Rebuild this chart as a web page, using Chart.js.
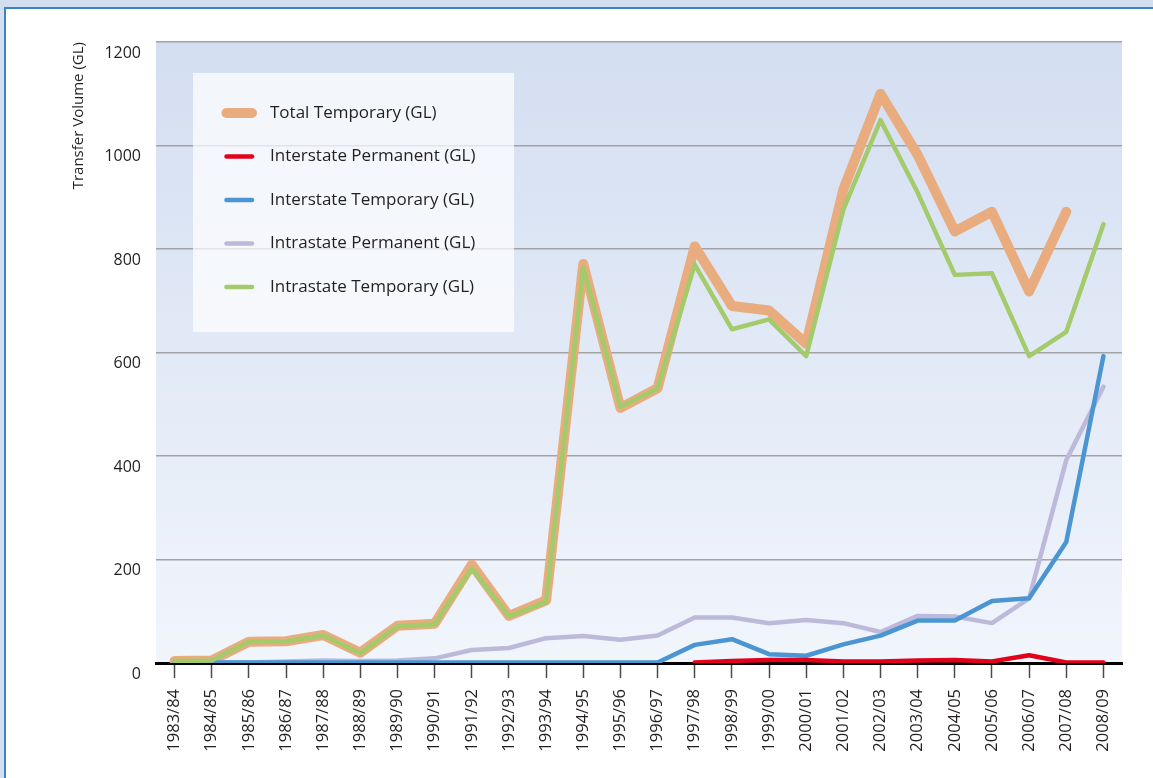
<!DOCTYPE html>
<html>
<head>
<meta charset="utf-8">
<title>Water transfer volumes</title>
<script src="https://cdn.jsdelivr.net/npm/chart.js@4/dist/chart.umd.min.js"></script>
<style>
  html, body {
    margin: 0;
    padding: 0;
    background: #d3dff0;
    overflow: hidden;
  }
  .panel {
    position: absolute;
    left: 4px;
    top: 7px;
    width: 1200px;
    height: 800px;
    background: #ffffff;
    border-left: 2px solid #3a86c5;
    border-top: 2px solid #3a86c5;
  }
  .wrap {
    position: absolute;
    left: 0;
    top: 0;
    width: 1153px;
    height: 778px;
  }
</style>
</head>
<body>
<div class="panel"></div>
<div class="wrap"><canvas id="chart-transfers"></canvas></div>
<script>
const years = [
  "1983/84", "1984/85", "1985/86", "1986/87", "1987/88", "1988/89", "1989/90",
  "1990/91", "1991/92", "1992/93", "1993/94", "1994/95", "1995/96", "1996/97",
  "1997/98", "1998/99", "1999/00", "2000/01", "2001/02", "2002/03", "2003/04",
  "2004/05", "2005/06", "2006/07", "2007/08", "2008/09",
];

const totalTemporary = [4, 5, 41, 42, 54, 20, 72, 76, 190, 91, 121, 771, 493, 531, 805, 690, 681, 617, 915, 1100, 982, 834, 872, 718, 872, null];
const interstatePermanent = [null, null, null, null, null, null, null, null, null, null, null, null, null, null, 1, 4, 6, 6, 3, 3, 5, 6, 3, 15, 1, 1];
const interstateTemporary = [1, 1, 1, 1, 1, 1, 1, 1, 1, 1, 1, 1, 1, 1, 35, 46, 17, 14, 36, 53, 82, 82, 120, 125, 234, 593];
const intrastatePermanent = [1, 1, 1, 3, 5, 4, 5, 9, 25, 29, 48, 52, 45, 53, 88, 88, 77, 83, 77, 60, 91, 90, 77, 125, 392, 534];
const intrastateTemporary = [4, 5, 41, 42, 53, 19, 71, 75, 183, 90, 118, 765, 495, 530, 770, 645, 664, 593, 876, 1049, 909, 750, 753, 593, 640, 848];

const yTicks = [0, 200, 400, 600, 800, 1000, 1200];

const fontFamily = "'Open Sans', 'Noto Sans', sans-serif";
const textColor = "#231f20";

// plot background gradient + translucent legend box with line swatches
const backdrop = {
  id: "backdrop",
  beforeDraw(chart) {
    const { ctx, chartArea } = chart;
    const g = ctx.createLinearGradient(0, chartArea.top, 0, chartArea.bottom);
    g.addColorStop(0, "#d3def1");
    g.addColorStop(1, "#f1f5fc");
    ctx.save();
    ctx.fillStyle = g;
    ctx.fillRect(chartArea.left, chartArea.top, chartArea.right - chartArea.left, chartArea.bottom - chartArea.top);
    ctx.restore();
  },
  beforeDatasetsDraw(chart) {
    const { ctx, chartArea } = chart;
    const boxX = chartArea.left + 37;
    const boxY = chartArea.top + 31;
    ctx.save();
    ctx.fillStyle = "rgba(255, 255, 255, 0.7)";
    ctx.fillRect(boxX, boxY, 321, 259);

    chart.data.datasets.forEach((ds, i) => {
      const y = boxY + 40 + i * 43.5;
      ctx.beginPath();
      ctx.strokeStyle = ds.borderColor;
      ctx.lineWidth = i === 0 ? 10 : 4.5;
      ctx.lineCap = "round";
      ctx.moveTo(boxX + 33.5, y);
      ctx.lineTo(boxX + 59, y);
      ctx.stroke();

      ctx.fillStyle = textColor;
      ctx.font = "17px " + fontFamily;
      ctx.textBaseline = "middle";
      ctx.textAlign = "left";
      ctx.fillText(ds.label, boxX + 77, y);
    });
    ctx.restore();
  },
};

const lineStyle = (color, width, order) => ({
  borderColor: color,
  backgroundColor: color,
  borderWidth: width,
  borderJoinStyle: "round",
  borderCapStyle: "round",
  pointRadius: 0,
  pointHoverRadius: 0,
  fill: false,
  tension: 0,
  spanGaps: false,
  order: order,
});

const ctxTransfers = document.getElementById("chart-transfers").getContext("2d");

const chartTransfers = new Chart(ctxTransfers, {
  type: "line",
  data: {
    labels: years,
    datasets: [
      { label: "Total Temporary (GL)", data: totalTemporary, ...lineStyle("#e8ac7e", 10, 4) },
      { label: "Interstate Permanent (GL)", data: interstatePermanent, ...lineStyle("#e3001b", 4.5, 1) },
      { label: "Interstate Temporary (GL)", data: interstateTemporary, ...lineStyle("#4a95d2", 4.5, 2) },
      { label: "Intrastate Permanent (GL)", data: intrastatePermanent, ...lineStyle("#bcb9da", 4.5, 3) },
      { label: "Intrastate Temporary (GL)", data: intrastateTemporary, ...lineStyle("#a3cb6b", 4.5, 0) },
    ],
  },
  options: {
    responsive: true,
    maintainAspectRatio: false,
    animation: false,
    layout: {
      padding: { left: 0, top: 42, right: 31, bottom: 0 },
    },
    plugins: {
      legend: { display: false },
      tooltip: { enabled: false },
    },
    scales: {
      x: {
        offset: true,
        afterFit: (scale) => {
          scale.height = 115;
        },
        ticks: {
          autoSkip: false,
          minRotation: 90,
          maxRotation: 90,
          padding: 11,
          color: textColor,
          font: { family: fontFamily, size: 16.5 },
        },
        grid: {
          offset: false,
          drawOnChartArea: false,
          drawTicks: true,
          tickLength: 15,
          tickColor: "#4a4a4a",
          tickWidth: 1.5,
        },
        border: {
          display: true,
          color: "#000000",
          width: 3,
        },
      },
      y: {
        min: 0,
        max: 1200,
        afterFit: (scale) => {
          scale.width = 156;
        },
        afterBuildTicks: (scale) => {
          scale.ticks = yTicks.map((v) => ({ value: v }));
        },
        ticks: {
          padding: 15,
          labelOffset: 11,
          color: textColor,
          font: { family: fontFamily, size: 16 },
          callback: (value) => String(value),
        },
        grid: {
          color: "#a3a3a3",
          lineWidth: 1.5,
          drawTicks: false,
        },
        border: { display: false },
        title: {
          display: true,
          text: "Transfer Volume (GL)",
          align: "end",
          color: textColor,
          font: { family: fontFamily, size: 15 },
          padding: { top: 70, bottom: 0 },
        },
      },
    },
  },
  plugins: [backdrop],
});
</script>
</body>
</html>
